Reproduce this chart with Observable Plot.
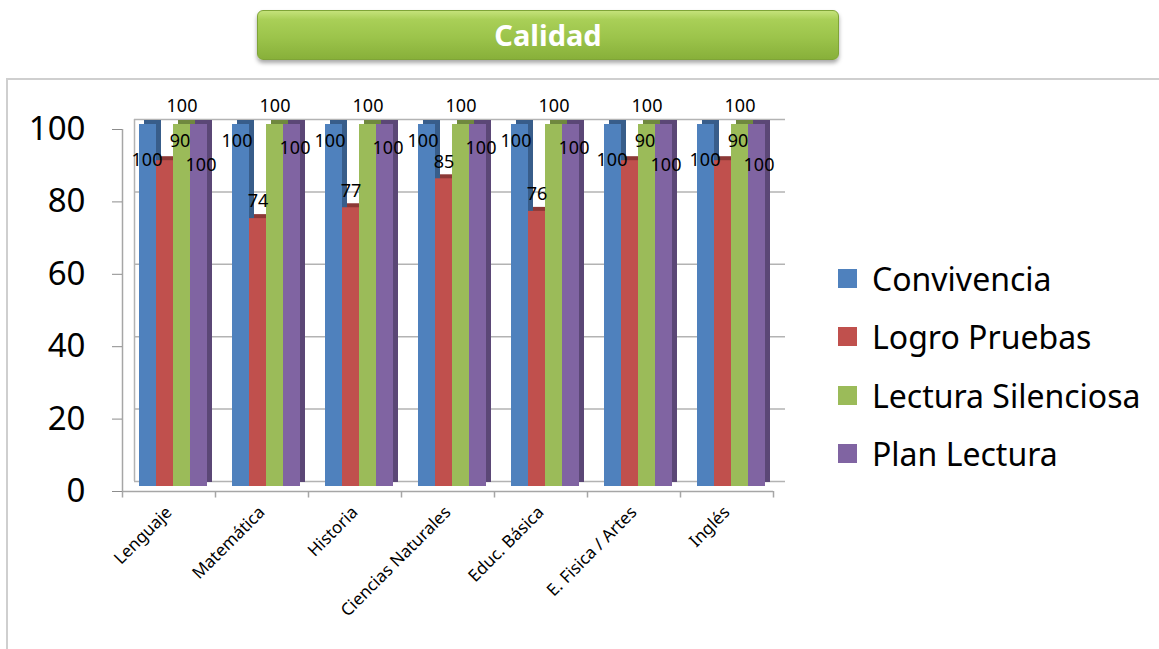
<!DOCTYPE html>
<html>
<head>
<meta charset="utf-8">
<script src="https://cdn.jsdelivr.net/npm/d3@7"></script>
<script src="https://cdn.jsdelivr.net/npm/@observablehq/plot@0.6"></script>
<style>
  html, body { margin: 0; padding: 0; background: #fff; }
  #page { position: relative; width: 1159px; height: 649px; overflow: hidden; font-family: "Noto Sans", "Open Sans", sans-serif; }
  #panel { position: absolute; left: 6px; top: 78px; width: 1200px; height: 700px; border-top: 2px solid #cfcfcf; border-left: 2px solid #cfcfcf; }
  #title { position: absolute; left: 257px; top: 10px; width: 580px; height: 48px; border-radius: 6px;
    background: linear-gradient(to bottom, #c4e27a 0%, #a9cf57 18%, #9cc44b 55%, #88b03a 100%);
    border: 1px solid #7fa437; box-shadow: 0 3px 4px rgba(0,0,0,0.35);
    color: #fff; font-weight: bold; font-size: 29px; line-height: 48px; text-align: center; }
  #chart { position: absolute; left: 0; top: 80px; }
  #legend { position: absolute; left: 838px; top: 249px; }
  .row { display: flex; align-items: center; height: 58.5px; font-size: 32px; color: #000; }
  .sw { width: 19px; height: 19px; margin-right: 15px; }
</style>
</head>
<body>
<div id="page">
  <div id="panel"></div>
  <div id="title">Calidad</div>
  <div id="chart"></div>
  <div id="legend"></div>
</div>
<script>
const categories = ["Lenguaje", "Matemática", "Historia", "Ciencias Naturales", "Educ. Básica", "E. Fisica / Artes", "Inglés"];
const series = ["Convivencia", "Logro Pruebas", "Lectura Silenciosa", "Plan Lectura"];
const convivencia = [100, 100, 100, 100, 100, 100, 100];
const logroPruebas = [90, 74, 77, 85, 76, 90, 90];
const lecturaSilenciosa = [100, 100, 100, 100, 100, 100, 100];
const planLectura = [100, 100, 100, 100, 100, 100, 100];
const yTicks = [0, 20, 40, 60, 80, 100];
const faceColors = ["#4F81BD", "#C0504D", "#9BBB59", "#8064A2"];
const sideColors = ["#385D8A", "#8C3836", "#6F883E", "#5B4776"];

const values = [convivencia, logroPruebas, lecturaSilenciosa, planLectura];
const rows = categories.map((cat, j) => ({cat, v: values.map(s => s[j])}));
const highRed = d => d.v[1] >= 88;
const lowRed = d => !highRed(d);

// layout constants (pixels)
const band = 93;
const barW = 17;
const barStart = 17;

const marks = [
  Plot.ruleY(yTicks, {dx: 12, dy: -10, stroke: "#b3b3b3", strokeWidth: 1.5}),
  Plot.ruleX([categories[0]], {y1: 0, y2: 100, dx: 12 - band / 2, dy: -10, stroke: "#b3b3b3", strokeWidth: 1.5}),
  Plot.ruleY([0], {stroke: "#a6a6a6", strokeWidth: 1.5}),
  Plot.ruleX([categories[0]], {y1: 0, y2: 100, dx: -band / 2, stroke: "#a6a6a6", strokeWidth: 1.5}),
  Plot.ruleX(categories, {y1: 0, y2: -1.8, dx: -band / 2, stroke: "#a6a6a6", strokeWidth: 1.5}),
  Plot.ruleX([categories[categories.length - 1]], {y1: 0, y2: -1.8, dx: band / 2, stroke: "#a6a6a6", strokeWidth: 1.5})
];

series.forEach((s, i) => {
  const insetLeft = barStart + barW * i;
  const insetRight = band - barStart - barW * (i + 1);
  marks.push(Plot.barY(rows, {x: "cat", y: d => d.v[i], fill: sideColors[i], insetLeft, insetRight, dx: 5, dy: -9}));
  marks.push(Plot.barY(rows, {x: "cat", y: d => d.v[i], fill: faceColors[i], insetLeft, insetRight, dy: -5}));
});

const lab = {fill: "#000", fontSize: 18};
const label = (filter, i, dx, dy) =>
  Plot.text(rows.filter(filter), {x: "cat", y: d => d.v[i], text: d => String(d.v[i]), dx, dy, ...lab});
// Convivencia
marks.push(label(lowRed, 0, -25, 12));
marks.push(label(highRed, 0, -22, 31));
// Logro Pruebas
marks.push(label(lowRed, 1, -4, -22));
marks.push(label(highRed, 1, 11, -24));
// Lectura Silenciosa
marks.push(label(() => true, 2, 13, -23));
// Plan Lectura
marks.push(label(lowRed, 3, 33, 19));
marks.push(label(highRed, 3, 32, 36));

marks.push(Plot.axisY({ticks: yTicks, tickSize: 10, tickPadding: 27, fontSize: 33, stroke: "#8c8c8c", fill: "#000", tickFormat: d => String(d)}));
marks.push(Plot.axisX({tickRotate: -45, tickSize: 0, tickPadding: 18, fontSize: 17, fill: "#000"}));

const chart = Plot.plot({
  width: 820,
  height: 569,
  marginLeft: 122,
  marginRight: 820 - 122 - band * 7,
  marginTop: 49,
  marginBottom: 158,
  style: {fontFamily: "'Noto Sans', 'Open Sans', sans-serif", background: "transparent", color: "#000", overflow: "visible"},
  x: {type: "band", domain: categories, padding: 0, round: false, label: null},
  y: {domain: [0, 100], label: null},
  marks
});
document.getElementById("chart").appendChild(chart);

const legend = document.getElementById("legend");
series.forEach((s, i) => {
  const row = document.createElement("div");
  row.className = "row";
  const sw = document.createElement("div");
  sw.className = "sw";
  sw.style.background = faceColors[i];
  const t = document.createElement("span");
  t.textContent = s;
  row.appendChild(sw);
  row.appendChild(t);
  legend.appendChild(row);
});
</script>
</body>
</html>
